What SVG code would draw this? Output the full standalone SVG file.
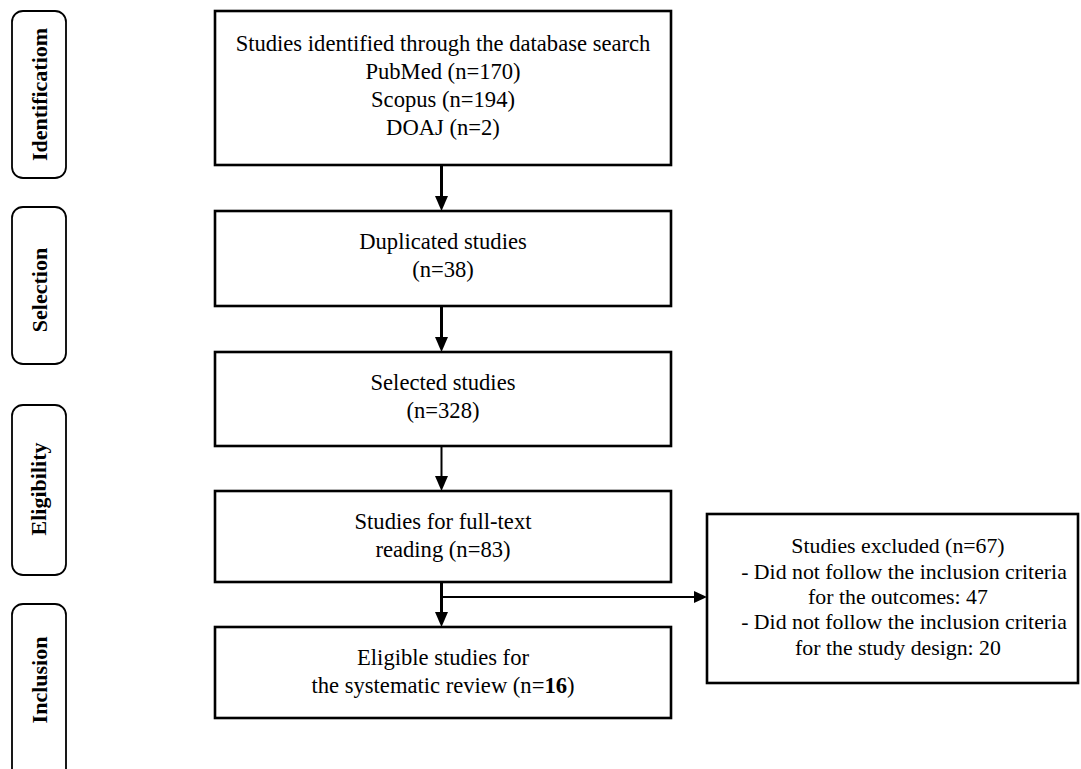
<svg xmlns="http://www.w3.org/2000/svg" width="1081" height="769" viewBox="0 0 1081 769">
<defs>
<style>
.bg{fill:#fff}
.stage{fill:#fff;stroke:#000;stroke-width:1.8}
.box{fill:#fff;stroke:#000;stroke-width:2.6}
.lbl{font-weight:bold;font-size:22px;fill:#000;text-anchor:middle}
.t{font-size:22.6px;fill:#000;text-anchor:middle}
.t2{font-size:21.8px;fill:#000;text-anchor:middle}
.thick{stroke:#000;stroke-width:3;fill:none}
.thin{stroke:#000;stroke-width:2;fill:none}
</style>
</defs>
<rect class="bg" x="0" y="0" width="1081" height="769"/>
<g font-family="Liberation Serif, Tinos, DejaVu Serif, serif">
<g id="stage-identification">
<rect class="stage" x="12" y="11" width="54" height="167" rx="11"/>
<text class="lbl" transform="translate(47,94.5) rotate(-90)">Identificatiom</text>
</g>
<g id="stage-selection">
<rect class="stage" x="12" y="207" width="54" height="157" rx="11"/>
<text class="lbl" transform="translate(47,290) rotate(-90)">Selection</text>
</g>
<g id="stage-eligibility">
<rect class="stage" x="12" y="405" width="54" height="170" rx="11"/>
<text class="lbl" transform="translate(46,489) rotate(-90)">Eligibility</text>
</g>
<g id="stage-inclusion">
<rect class="stage" x="12" y="604" width="54" height="190" rx="11"/>
<text class="lbl" transform="translate(47,680) rotate(-90)">Inclusion</text>
</g>
<g id="node-identified">
<rect class="box" x="215" y="11" width="456" height="154"/>
<text class="t" x="443" y="51">Studies identified through the database search</text>
<text class="t" x="443" y="79">PubMed (n=170)</text>
<text class="t" x="443" y="107">Scopus (n=194)</text>
<text class="t" x="443" y="135">DOAJ (n=2)</text>
</g>
<g id="node-duplicated">
<rect class="box" x="215" y="211" width="456" height="95"/>
<text class="t" x="443" y="249">Duplicated studies</text>
<text class="t" x="443" y="277">(n=38)</text>
</g>
<g id="node-selected">
<rect class="box" x="215" y="352" width="456" height="94"/>
<text class="t" x="443" y="390">Selected studies</text>
<text class="t" x="443" y="418">(n=328)</text>
</g>
<g id="node-fulltext">
<rect class="box" x="215" y="491" width="456" height="91"/>
<text class="t" x="443" y="529">Studies for full-text</text>
<text class="t" x="443" y="557">reading (n=83)</text>
</g>
<g id="node-eligible">
<rect class="box" x="215" y="627" width="456" height="91"/>
<text class="t" x="443" y="665">Eligible studies for</text>
<text class="t" x="443" y="693">the systematic review (n=<tspan font-weight="bold">16</tspan>)</text>
</g>
<g id="node-excluded">
<rect class="box" x="707" y="514" width="371" height="169"/>
<text class="t2" x="898" y="553">Studies excluded (n=67)</text>
<text class="t2" x="904" y="579">- Did not follow the inclusion criteria</text>
<text class="t2" x="898" y="604">for the outcomes: 47</text>
<text class="t2" x="904" y="629">- Did not follow the inclusion criteria</text>
<text class="t2" x="898" y="655">for the study design: 20</text>
</g>
</g>
<g id="connectors">
<line class="thick" x1="441.5" y1="165" x2="441.5" y2="197"/>
<polygon points="435,196 448,196 441.5,211"/>
<line class="thick" x1="441.5" y1="306" x2="441.5" y2="338"/>
<polygon points="435,337 448,337 441.5,352"/>
<line class="thin" x1="441.5" y1="446" x2="441.5" y2="477"/>
<polygon points="435,476 448,476 441.5,491"/>
<line class="thick" x1="441.5" y1="582" x2="441.5" y2="613"/>
<polygon points="435,612 448,612 441.5,627"/>
<line class="thin" x1="441.5" y1="597" x2="695" y2="597"/>
<polygon points="694,591 694,603 707,597"/>
</g>
</svg>
